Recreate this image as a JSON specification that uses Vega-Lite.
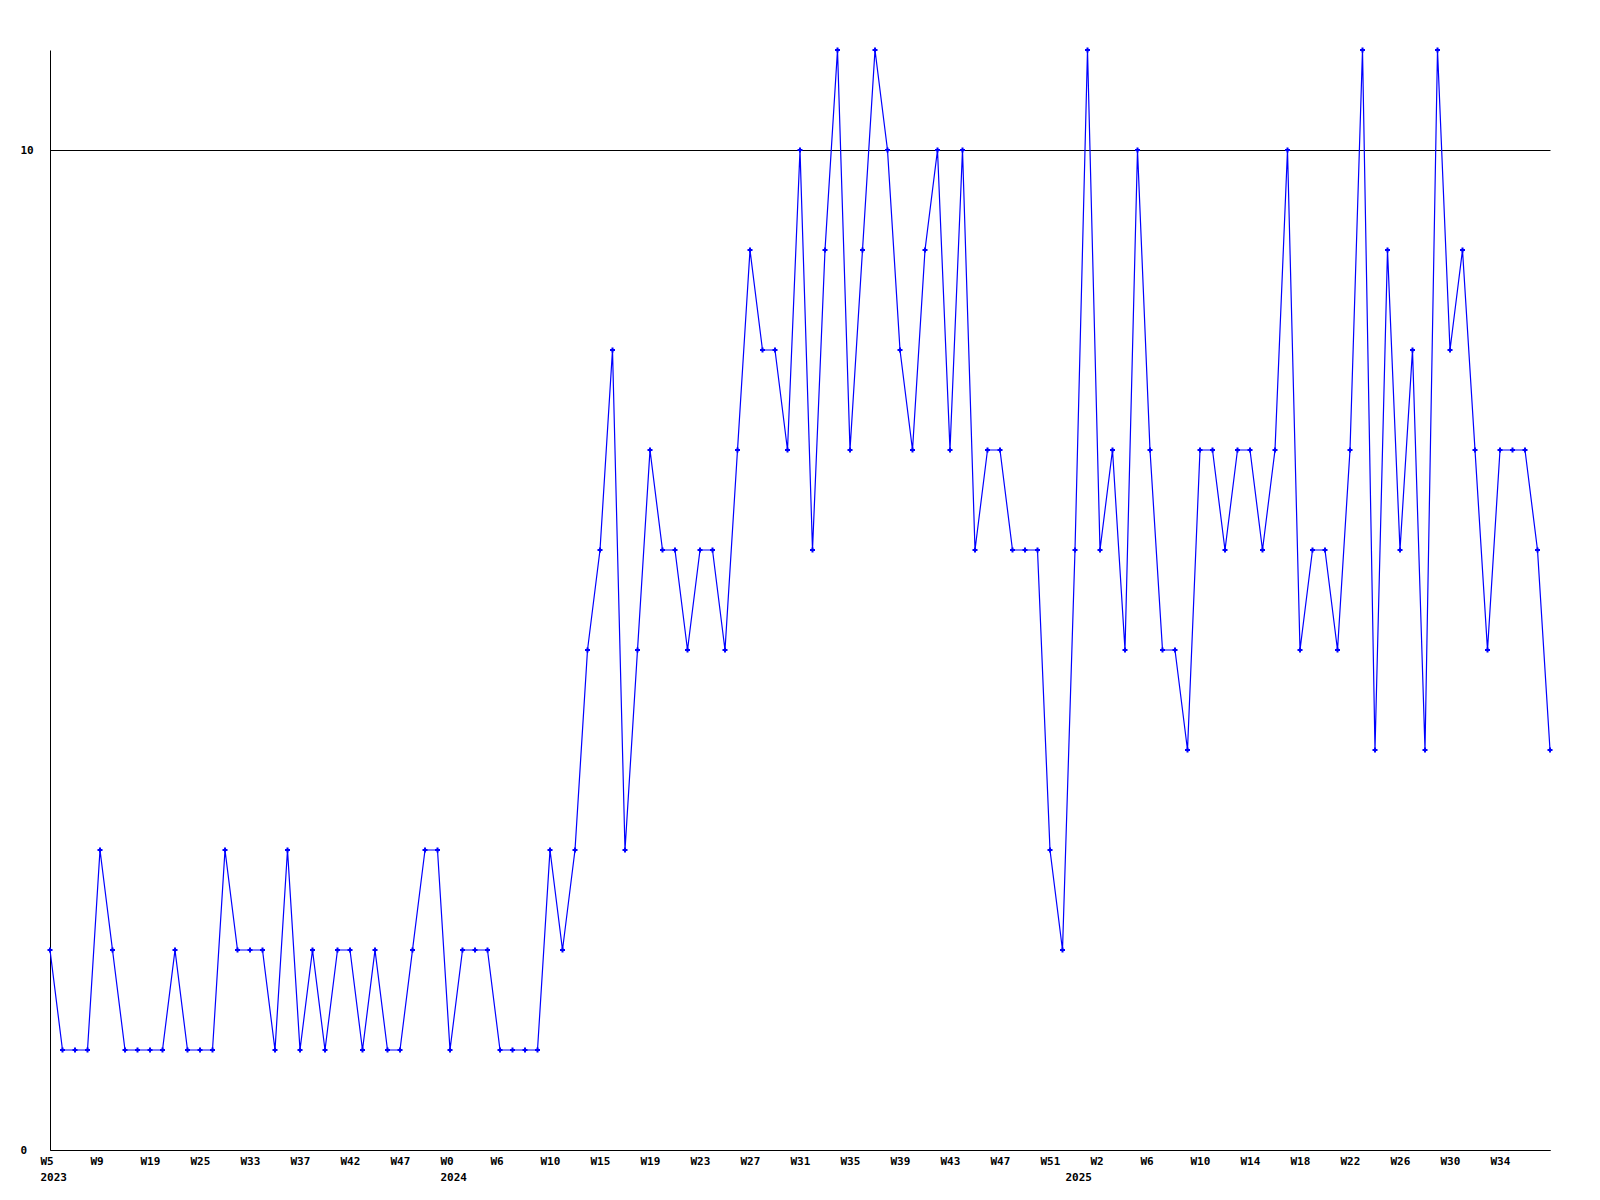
{
  "$schema": "https://vega.github.io/schema/vega-lite/v6.json",
  "width": 1500,
  "height": 1100,
  "autosize": {"type": "none"},
  "padding": {"left": 50, "top": 50, "right": 50, "bottom": 50},
  "background": "white",
  "config": {
    "view": {"stroke": null},
    "axis": {"labelFont": "DejaVu Sans Mono", "labelFontWeight": "bold", "labelFontSize": 11, "labelColor": "black", "domainColor": "black", "domainWidth": 1, "ticks": false}
  },
  "data": {"values": [
    {"week": "2023-W5", "count": 2}, {"week": "2023-W6", "count": 1}, {"week": "2023-W7", "count": 1}, {"week": "2023-W8", "count": 1},
    {"week": "2023-W9", "count": 3}, {"week": "2023-W11", "count": 2}, {"week": "2023-W14", "count": 1}, {"week": "2023-W16", "count": 1},
    {"week": "2023-W19", "count": 1}, {"week": "2023-W20", "count": 1}, {"week": "2023-W22", "count": 2}, {"week": "2023-W23", "count": 1},
    {"week": "2023-W25", "count": 1}, {"week": "2023-W27", "count": 1}, {"week": "2023-W29", "count": 3}, {"week": "2023-W31", "count": 2},
    {"week": "2023-W33", "count": 2}, {"week": "2023-W34", "count": 2}, {"week": "2023-W35", "count": 1}, {"week": "2023-W36", "count": 3},
    {"week": "2023-W37", "count": 1}, {"week": "2023-W39", "count": 2}, {"week": "2023-W40", "count": 1}, {"week": "2023-W41", "count": 2},
    {"week": "2023-W42", "count": 2}, {"week": "2023-W43", "count": 1}, {"week": "2023-W44", "count": 2}, {"week": "2023-W46", "count": 1},
    {"week": "2023-W47", "count": 1}, {"week": "2023-W48", "count": 2}, {"week": "2023-W50", "count": 3}, {"week": "2023-W51", "count": 3},
    {"week": "2024-W0", "count": 1}, {"week": "2024-W1", "count": 2}, {"week": "2024-W3", "count": 2}, {"week": "2024-W4", "count": 2},
    {"week": "2024-W6", "count": 1}, {"week": "2024-W7", "count": 1}, {"week": "2024-W8", "count": 1}, {"week": "2024-W9", "count": 1},
    {"week": "2024-W10", "count": 3}, {"week": "2024-W11", "count": 2}, {"week": "2024-W13", "count": 3}, {"week": "2024-W14", "count": 5},
    {"week": "2024-W15", "count": 6}, {"week": "2024-W16", "count": 8}, {"week": "2024-W17", "count": 3}, {"week": "2024-W18", "count": 5},
    {"week": "2024-W19", "count": 7}, {"week": "2024-W20", "count": 6}, {"week": "2024-W21", "count": 6}, {"week": "2024-W22", "count": 5},
    {"week": "2024-W23", "count": 6}, {"week": "2024-W24", "count": 6}, {"week": "2024-W25", "count": 5}, {"week": "2024-W26", "count": 7},
    {"week": "2024-W27", "count": 9}, {"week": "2024-W28", "count": 8}, {"week": "2024-W29", "count": 8}, {"week": "2024-W30", "count": 7},
    {"week": "2024-W31", "count": 10}, {"week": "2024-W32", "count": 6}, {"week": "2024-W33", "count": 9}, {"week": "2024-W34", "count": 11},
    {"week": "2024-W35", "count": 7}, {"week": "2024-W36", "count": 9}, {"week": "2024-W37", "count": 11}, {"week": "2024-W38", "count": 10},
    {"week": "2024-W39", "count": 8}, {"week": "2024-W40", "count": 7}, {"week": "2024-W41", "count": 9}, {"week": "2024-W42", "count": 10},
    {"week": "2024-W43", "count": 7}, {"week": "2024-W44", "count": 10}, {"week": "2024-W45", "count": 6}, {"week": "2024-W46", "count": 7},
    {"week": "2024-W47", "count": 7}, {"week": "2024-W48", "count": 6}, {"week": "2024-W49", "count": 6}, {"week": "2024-W50", "count": 6},
    {"week": "2024-W51", "count": 3}, {"week": "2024-W52", "count": 2}, {"week": "2025-W0", "count": 6}, {"week": "2025-W1", "count": 11},
    {"week": "2025-W2", "count": 6}, {"week": "2025-W3", "count": 7}, {"week": "2025-W4", "count": 5}, {"week": "2025-W5", "count": 10},
    {"week": "2025-W6", "count": 7}, {"week": "2025-W7", "count": 5}, {"week": "2025-W8", "count": 5}, {"week": "2025-W9", "count": 4},
    {"week": "2025-W10", "count": 7}, {"week": "2025-W11", "count": 7}, {"week": "2025-W12", "count": 6}, {"week": "2025-W13", "count": 7},
    {"week": "2025-W14", "count": 7}, {"week": "2025-W15", "count": 6}, {"week": "2025-W16", "count": 7}, {"week": "2025-W17", "count": 10},
    {"week": "2025-W18", "count": 5}, {"week": "2025-W19", "count": 6}, {"week": "2025-W20", "count": 6}, {"week": "2025-W21", "count": 5},
    {"week": "2025-W22", "count": 7}, {"week": "2025-W23", "count": 11}, {"week": "2025-W24", "count": 4}, {"week": "2025-W25", "count": 9},
    {"week": "2025-W26", "count": 6}, {"week": "2025-W27", "count": 8}, {"week": "2025-W28", "count": 4}, {"week": "2025-W29", "count": 11},
    {"week": "2025-W30", "count": 8}, {"week": "2025-W31", "count": 9}, {"week": "2025-W32", "count": 7}, {"week": "2025-W33", "count": 5},
    {"week": "2025-W34", "count": 7}, {"week": "2025-W35", "count": 7}, {"week": "2025-W36", "count": 7}, {"week": "2025-W37", "count": 6},
    {"week": "2025-W38", "count": 4}
  ]},
  "encoding": {
    "x": {
      "field": "week", "type": "ordinal", "sort": null,
      "scale": {"type": "point", "padding": 0},
      "axis": {
        "title": null, "grid": false, "labelAngle": 0, "labelAlign": "left", "labelBaseline": "top",
        "labelOffset": -10, "labelPadding": 5, "labelLineHeight": 16,
        "values": ["2023-W5", "2023-W9", "2023-W19", "2023-W25", "2023-W33", "2023-W37", "2023-W42", "2023-W47",
                   "2024-W0", "2024-W6", "2024-W10", "2024-W15", "2024-W19", "2024-W23", "2024-W27", "2024-W31",
                   "2024-W35", "2024-W39", "2024-W43", "2024-W47", "2024-W51", "2025-W0",
                   "2025-W2", "2025-W6", "2025-W10", "2025-W14", "2025-W18", "2025-W22", "2025-W26", "2025-W30", "2025-W34"],
        "labelExpr": "datum.value == '2023-W5' || datum.value == '2024-W0' ? [split(datum.value, '-')[1], split(datum.value, '-')[0]] : datum.value == '2025-W0' ? [' ', '2025'] : split(datum.value, '-')[1]"
      }
    },
    "y": {
      "field": "count", "type": "quantitative",
      "scale": {"domain": [0, 11], "nice": false, "zero": true},
      "axis": {"title": null, "values": [0, 10], "grid": true, "gridColor": "black", "gridOpacity": 1, "gridWidth": 1,
               "labelAlign": "left", "labelBaseline": "middle", "labelPadding": 30}
    }
  },
  "layer": [
    {"mark": {"type": "line", "color": "#0000ff", "strokeWidth": 1.2}},
    {"mark": {"type": "point", "shape": "cross", "size": 25, "filled": true, "color": "#0000ff", "opacity": 1}}
  ]
}
